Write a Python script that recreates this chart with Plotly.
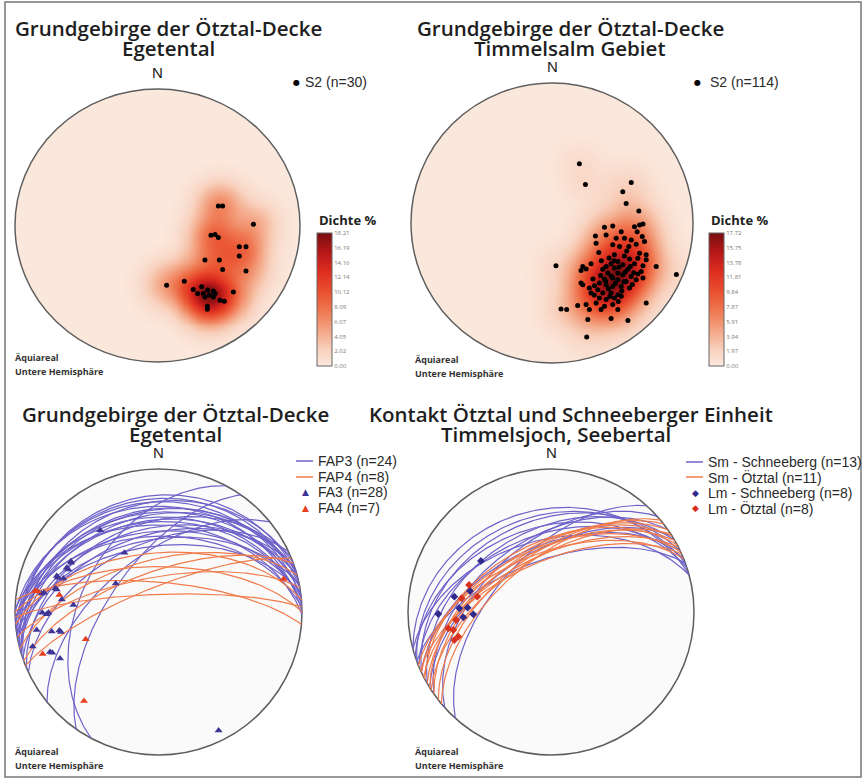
import numpy as np
import plotly.graph_objects as go

W, H = 865, 779

# ---- data (projection coords, primitive radius = 100, lower hemisphere, equal area) ----
# S2 poles, Egetental
s2_ege_x = [42.7, 45.7, 67.3, 37.5, 40.4, 42.7, 57.4, 62.1, 57.4, 33.3, 43.4, 45.7, 62.1, 6.4, 18.8,
            25.1, 28.2, 31.0, 35.2, 39.2, 36.4, 33.3, 39.2, 43.9, 46.9, 53.2, 35.0, 35.0, 40.4, 32.2]
s2_ege_y = [14.3, 14.3, 0.9, -7.2, -6.5, -8.7, -15.5, -15.5, -22.4, -25.3, -25.3, -32.2, -33.4, -43.7, -40.8,
            -46.9, -49.8, -44.9, -47.3, -47.9, -51.0, -52.3, -52.3, -54.7, -55.4, -48.8, -59.1, -61.3, -49.8, -49.8]

# S2 poles, Timmelsalm
s2_tim_x = [19.4, 23.7, 56.2, 50.2, 52.6, 61.6, 62.1, 64.5, 58.5, 60.4, 64.0, 65.6, 37.2, 43.1, 49.1,
            38.4, 30.8, 45.5, 51.4, 56.2, 31.3, 43.1, 47.9, 54.5, 59.7,
            33.2, 44.3, 51.4, 55.0, 60.9, 66.8, 62.1, 66.8, 46.7, 41.9, 50.2, 58.5, 64.5, 27.7, 21.8,
            24.2, 20.6, 38.4, 44.3, 53.8, 63.3, 73.9, 2.8, 88.2, 46.7, 39.6, 50.2, 56.2, 43.1, 37.2,
            46.7, 52.6, 59.7, 64.5, 33.6, 38.4, 43.1, 49.1, 55.0, 30.1, 20.6, 21.8, 26.5, 32.5, 36.0,
            41.9, 46.7, 27.7, 33.6, 38.4, 44.3, 49.1, 31.3, 24.2, 18.2, 37.2, 43.1, 6.4, 10.4, 26.5,
            34.8, 46.7, 66.8, 25.4, 41.9, 53.8, 24.6,
            40.5, 47.5, 52.0, 42.0, 36.0, 45.0, 49.5, 40.0, 34.5, 55.5, 58.0, 44.0, 38.0, 51.0, 30.0,
            47.0, 41.0, 57.0, 61.0, 35.0, 29.0, 53.0]
s2_tim_y = [42.4, 27.5, 28.9, 22.3, 14.0, 8.5, -1.4, -0.7, -2.6, -6.2, -9.7, -13.3, -3.1, -2.1, -6.2,
            -8.5, -9.2, -10.9, -10.9, -12.1, -14.5, -15.6, -16.8, -16.8, -15.2,
            -21.1, -22.7, -23.5, -25.8, -25.1, -26.3, -21.6, -22.7, -27.5, -29.1, -29.9, -29.1, -30.6, -29.1, -31.0,
            -32.9, -33.9, -31.0, -32.2, -33.0, -34.6, -31.0, -30.6, -36.7, -35.8, -35.8, -37.0, -38.2, -39.3, -40.0,
            -40.5, -41.7, -40.5, -39.3, -42.9, -44.1, -45.3, -45.3, -46.4, -44.8, -42.9, -44.1, -46.4, -47.6, -50.0,
            -50.0, -51.2, -50.0, -53.6, -54.7, -53.6, -52.4, -57.1, -58.3, -59.0, -59.5, -58.3, -61.4, -61.8, -61.8,
            -61.8, -61.8, -57.1, -69.0, -68.2, -69.7, -81.5,
            -25.0, -31.5, -35.0, -38.0, -33.0, -43.0, -48.5, -47.0, -37.5, -31.0, -35.5, -27.0, -41.5, -42.0, -51.5,
            -56.0, -52.5, -44.0, -36.5, -27.0, -40.0, -20.0]

# colorbar tick labels (Dichte %)
dens_ticks_ege = [0.00, 2.02, 4.05, 6.07, 8.09, 10.12, 12.14, 14.16, 16.19, 18.21]
dens_ticks_tim = [0.00, 1.97, 3.94, 5.91, 7.87, 9.84, 11.81, 13.78, 15.75, 17.72]

# fold axial planes, Egetental (dip direction, dip)
fap3_dipdir = [345, 350, 355, 340, 0, 347, 353, 343, 357, 350, 337, 1, 345, 354, 341, 358, 349, 335,
               352, 344, 356, 298, 321, 305]
fap3_dip = [20, 22, 24, 25, 27, 29, 31, 33, 34, 36, 38, 39, 41, 43, 45, 46, 48, 50,
            52, 30, 37, 45, 58, 62]
fap4_dipdir = [355, 345, 0, 340, 350, 5, 338, 358]
fap4_dip = [56, 60, 64, 67, 70, 73, 76, 80]

# fold axes, Egetental
fa3_x = [-40.7, -23.7, -60.9, -62.8, -70.9, -66.3, -79.8, -70.9, -67.4, -59.3, -80.9, -76.7, -84.9, -74.4,
         -69.1, -87.7, -75.6, -68.6, -29.8, 41.9, -64.0, -72.0, -78.0, -68.0, -61.0, -70.0, -81.5, -74.0]
fa3_y = [57.2, 41.4, 34.4, 29.8, 25.1, 23.5, 13.5, 15.8, 8.8, 4.9, -0.5, -0.5, -12.6, -13.7,
         -13.0, -24.2, -27.9, -32.6, 20.0, -82.8, 31.0, 16.5, -1.5, -14.0, 35.5, 24.0, 13.0, -28.5]
fa4_x = [-86.0, -84.2, -69.1, -50.7, -80.7, -51.9, 87.2]
fa4_y = [14.7, 14.4, 11.9, -19.1, -29.3, -62.3, 23.0]

# main foliation, contact Timmelsjoch (dip direction, dip)
sm_sch_dipdir = [345, 340, 335, 342, 330, 338, 325, 345, 318, 335, 328, 312, 340]
sm_sch_dip = [29, 33, 36, 40, 42, 45, 47, 48, 50, 52, 55, 57, 60]
sm_oetz_dipdir = [332, 328, 335, 325, 330, 338, 322, 333, 327, 320, 336]
sm_oetz_dip = [50, 52, 53, 54, 55, 56, 57, 58, 59, 60, 61]

# mineral lineations
lm_sch_x = [-49.0, -67.6, -56.6, -64.1, -58.3, -61.3, -54.3, -78.8]
lm_sch_y = [35.7, 10.7, 14.7, 2.6, 3.0, -3.7, -1.6, -1.4]
lm_oetz_x = [-57.3, -62.5, -51.5, -66.4, -71.8, -68.3, -67.6, -64.8]
lm_oetz_y = [18.9, 9.6, 10.7, -5.6, -11.4, -12.6, -19.6, -17.2]

# ---- helpers ----
PAD = 1.03
# circle boxes in pixels: left, right, top, bottom
boxes = [(15, 300, 89, 362), (411, 693, 83, 363), (15, 302, 469, 755), (408, 694, 469, 755)]


def px(x):
    return x / W


def py(y):
    return 1 - y / H


def domains(box):
    l, r, t, b = box
    cx, cy = (l + r) / 2, (t + b) / 2
    hx, hy = (r - l) / 2 * PAD, (b - t) / 2 * PAD
    return [px(cx - hx), px(cx + hx)], [py(cy + hy), py(cy - hy)]


def great_circles(dipdirs, dips):
    xs, ys = [], []
    t = np.linspace(0, np.pi, 181)
    for dd, dp in zip(dipdirs, dips):
        a, d = np.radians(dd), np.radians(dp)
        s = np.array([np.sin(a - np.pi / 2), np.cos(a - np.pi / 2), 0.0])
        dv = np.array([np.sin(a) * np.cos(d), np.cos(a) * np.cos(d), np.sin(d)])
        v = np.outer(np.cos(t), s) + np.outer(np.sin(t), dv)
        k = 100 / np.sqrt(1 + v[:, 2])
        xs += list(v[:, 0] * k) + [None]
        ys += list(v[:, 1] * k) + [None]
    return xs, ys


def density(xs, ys, sigma, vmax, gamma):
    # gaussian kernel sum, compressed a little so secondary maxima stay visible
    g = np.linspace(-100, 100, 281)
    X, Y = np.meshgrid(g, g)
    Z = np.zeros_like(X)
    for x, y in zip(xs, ys):
        Z += np.exp(-((X - x) ** 2 + (Y - y) ** 2) / (2 * sigma ** 2))
    Z = (Z / Z.max()) ** gamma * vmax
    Z[X ** 2 + Y ** 2 > 100 ** 2] = np.nan
    return g, Z


reds = [[0.0, '#fbe8dd'], [0.12, '#f8d2bf'], [0.25, '#f4ab8c'], [0.4, '#ef7c56'],
        [0.55, '#ea5230'], [0.7, '#df2f20'], [0.85, '#b8181a'], [1.0, '#7a0d0e']]

PURPLE = '#6f62c9'
ORANGE = '#f07c4c'

fig = go.Figure()


def add_density(xs, ys, ticks, axis, cb_left, sigma, gamma):
    g, Z = density(xs, ys, sigma, ticks[-1], gamma)
    fig.add_trace(go.Heatmap(
        x=g, y=g, z=Z, xaxis='x' + axis, yaxis='y' + axis,
        colorscale=reds, zmin=0, zmax=ticks[-1], zsmooth=False, hoverinfo='skip',
        colorbar=dict(x=px(cb_left), xanchor='left', y=py(366), yanchor='bottom',
                      len=133, lenmode='pixels', thickness=15, thicknessmode='pixels',
                      xpad=0, ypad=0, outlinewidth=1, outlinecolor='#666',
                      tickvals=ticks, ticktext=[f'{v:.2f}' for v in ticks], ticks='',
                      tickfont=dict(size=6, color='#777'))))


add_density(s2_ege_x, s2_ege_y, dens_ticks_ege, '', 317, 9.5, 0.6)
fig.add_trace(go.Scatter(x=s2_ege_x, y=s2_ege_y, mode='markers', name='S2 (n=30)',
                         marker=dict(color='black', size=5), xaxis='x', yaxis='y'))

add_density(s2_tim_x, s2_tim_y, dens_ticks_tim, '2', 709, 11, 0.8)
fig.add_trace(go.Scatter(x=s2_tim_x, y=s2_tim_y, mode='markers', name='S2 (n=114)',
                         marker=dict(color='black', size=5), xaxis='x2', yaxis='y2'))

gx, gy = great_circles(fap3_dipdir, fap3_dip)
fig.add_trace(go.Scatter(x=gx, y=gy, mode='lines', name='FAP3 (n=24)', line=dict(color=PURPLE, width=1.2),
                         xaxis='x3', yaxis='y3'))
gx, gy = great_circles(fap4_dipdir, fap4_dip)
fig.add_trace(go.Scatter(x=gx, y=gy, mode='lines', name='FAP4 (n=8)', line=dict(color=ORANGE, width=1.2),
                         xaxis='x3', yaxis='y3'))
fig.add_trace(go.Scatter(x=fa3_x, y=fa3_y, mode='markers', name='FA3 (n=28)',
                         marker=dict(symbol='triangle-up', color='#3f3596', size=7),
                         xaxis='x3', yaxis='y3'))
fig.add_trace(go.Scatter(x=fa4_x, y=fa4_y, mode='markers', name='FA4 (n=7)',
                         marker=dict(symbol='triangle-up', color='#e8401f', size=7),
                         xaxis='x3', yaxis='y3'))

gx, gy = great_circles(sm_sch_dipdir, sm_sch_dip)
fig.add_trace(go.Scatter(x=gx, y=gy, mode='lines', name='Sm - Schneeberg (n=13)',
                         line=dict(color=PURPLE, width=1.2), xaxis='x4', yaxis='y4'))
gx, gy = great_circles(sm_oetz_dipdir, sm_oetz_dip)
fig.add_trace(go.Scatter(x=gx, y=gy, mode='lines', name='Sm - Ötztal (n=11)',
                         line=dict(color=ORANGE, width=1.2), xaxis='x4', yaxis='y4'))
fig.add_trace(go.Scatter(x=lm_sch_x, y=lm_sch_y, mode='markers', name='Lm - Schneeberg (n=8)',
                         marker=dict(symbol='diamond', color='#2f2a8c', size=6),
                         xaxis='x4', yaxis='y4'))
fig.add_trace(go.Scatter(x=lm_oetz_x, y=lm_oetz_y, mode='markers', name='Lm - Ötztal (n=8)',
                         marker=dict(symbol='diamond', color='#d8321e', size=6),
                         xaxis='x4', yaxis='y4'))

# ---- layout ----
layout = dict(width=W, height=H, margin=dict(l=0, r=0, t=0, b=0),
              paper_bgcolor='white', plot_bgcolor='rgba(0,0,0,0)', showlegend=False)
shapes, annotations = [], []


def note(text, x, y, size, xanchor='center', family='Open Sans', weight=400, color='#222'):
    annotations.append(dict(x=px(x), y=py(y), xref='paper', yref='paper', text=text, showarrow=False,
                            xanchor=xanchor, yanchor='middle',
                            font=dict(family=family, size=size, weight=weight, color=color)))


for i, box in enumerate(boxes):
    sfx = '' if i == 0 else str(i + 1)
    xd, yd = domains(box)
    ax = dict(range=[-100 * PAD, 100 * PAD], visible=False, fixedrange=True)
    layout['xaxis' + sfx] = dict(ax, domain=xd, anchor='y' + sfx)
    layout['yaxis' + sfx] = dict(ax, domain=yd, anchor='x' + sfx)
    top = i < 2
    shapes.append(dict(type='circle', xref='x' + sfx, yref='y' + sfx, x0=-100, y0=-100, x1=100, y1=100,
                       line=dict(color='#5e5e5e', width=1.5),
                       fillcolor='rgba(0,0,0,0)' if top else '#fafafa',
                       layer='above' if top else 'below'))
    note('N', (box[0] + box[1]) / 2, box[2] - 16, 15, family='Liberation Sans')

shapes.append(dict(type='rect', xref='paper', yref='paper', x0=px(5), x1=px(861), y0=py(777), y1=py(2),
                   line=dict(color='#777', width=1.5)))

titles = [('Grundgebirge der Ötztal-Decke', 168, 28), ('Egetental', 168, 48),
          ('Grundgebirge der Ötztal-Decke', 570, 28), ('Timmelsalm Gebiet', 570, 48),
          ('Grundgebirge der Ötztal-Decke', 175, 414), ('Egetental', 175, 434),
          ('Kontakt Ötztal und Schneeberger Einheit', 571, 414), ('Timmelsjoch, Seebertal', 556, 434)]
for txt, x, y in titles:
    note(txt, x, y, 20.5, weight=600, color='#1e1e1e')

for x, y in [(13, 357), (413, 359), (13, 751), (413, 751)]:
    note('Äquiareal', x, y, 9, xanchor='left', weight=700, color='#333')
    note('Untere Hemisphäre', x, y + 14, 9, xanchor='left', weight=700, color='#333')

for x in (317, 709):
    note('Dichte %', x, 220, 13, xanchor='left', weight=700)

# legends (symbol glyph / short line + label)
legend_rows = [
    ('dot', 'black', 'S2 (n=30)', 296, 303, 82),
    ('dot', 'black', 'S2 (n=114)', 697, 708, 82),
    ('line', PURPLE, 'FAP3 (n=24)', 305, 316, 461),
    ('line', ORANGE, 'FAP4 (n=8)', 305, 316, 477),
    ('tri', '#3f3596', 'FA3 (n=28)', 305, 316, 492),
    ('tri', '#e8401f', 'FA4 (n=7)', 305, 316, 508),
    ('line', PURPLE, 'Sm - Schneeberg (n=13)', 695, 706, 462),
    ('line', ORANGE, 'Sm - Ötztal (n=11)', 695, 706, 477),
    ('dia', '#2f2a8c', 'Lm - Schneeberg (n=8)', 695, 706, 493),
    ('dia', '#d8321e', 'Lm - Ötztal (n=8)', 695, 706, 508),
]
glyphs = {'dot': ('●', 8), 'tri': ('▲', 9), 'dia': ('◆', 9)}
for kind, color, label, sx, tx, y in legend_rows:
    if kind == 'line':
        shapes.append(dict(type='line', xref='paper', yref='paper', x0=px(sx - 9), x1=px(sx + 8),
                           y0=py(y), y1=py(y), line=dict(color=color, width=1.5)))
    else:
        g, s = glyphs[kind]
        note(g, sx, y, s, family='DejaVu Sans', color=color)
    note(label, tx, y, 14, xanchor='left', family='Liberation Sans, Arial', color='#2a2a2a')

layout['shapes'] = shapes
layout['annotations'] = annotations
fig.update_layout(**layout)

fig.write_html("out.html", config={'displayModeBar': False},
               post_script="document.body.style.margin='0';")
